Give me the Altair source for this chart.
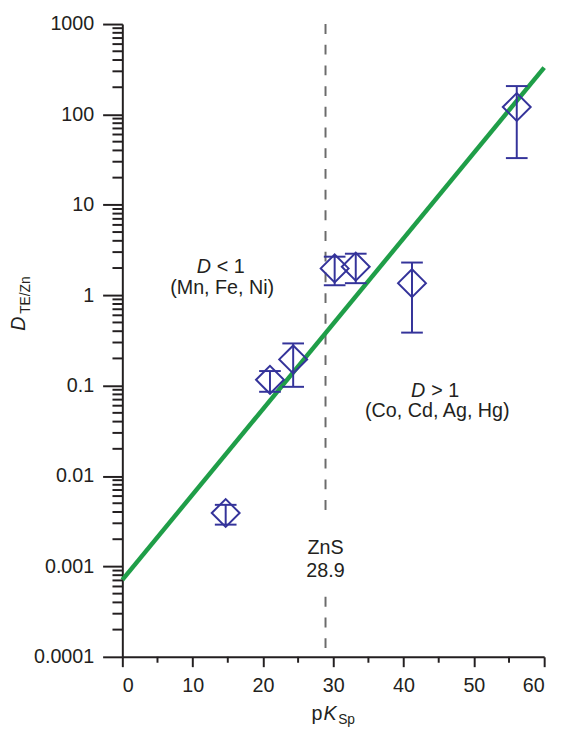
import altair as alt
import pandas as pd

# ---- data ----
pksp = [14.7, 21.0, 24.3, 30.2, 33.2, 41.2, 56.1]
d_mid = [0.0039, 0.116, 0.195, 1.98, 2.07, 1.36, 121]
d_hi = [0.0048, 0.145, 0.293, 2.67, 2.88, 2.30, 206]
d_lo = [0.0029, 0.0855, 0.097, 1.29, 1.36, 0.386, 32.9]

fit_x = [0, 60]
fit_y = [0.00071, 330]

zns_pksp = 28.9
zns_gap_top = 0.00361     # dashed line interrupted by the label
zns_gap_bottom = 0.000461

y_major = [0.0001, 0.001, 0.01, 0.1, 1, 10, 100, 1000]
y_minor = [m * 10.0 ** e for e in range(-4, 3) for m in range(2, 10)]
x_major = [0, 10, 20, 30, 40, 50, 60]
x_minor = [5, 15, 25, 35, 45, 55]

BLUE = "#34339a"
GREEN = "#1f9e48"
GREY = "#6b6b6b"
INK = "#231f20"
FONT = "Liberation Sans"

W, H = 428, 642

xs = alt.Scale(domain=[0, 60], nice=False, zero=False)
ys = alt.Scale(type="log", domain=[0.0001, 1000], nice=False)

pts = pd.DataFrame({"x": pksp, "y": d_mid, "hi": d_hi, "lo": d_lo})
fit = pd.DataFrame({"x": fit_x, "y": fit_y})
vdash = pd.DataFrame({"x": [zns_pksp, zns_pksp],
                      "y": [1000, zns_gap_bottom],
                      "y2": [zns_gap_top, 0.0001]})

x_axis = alt.Axis(values=x_major, tickSize=10, tickWidth=2, tickColor=INK,
                  domainColor=INK, domainWidth=2, labelFontSize=20,
                  labelFont=FONT, labelColor=INK, labelPadding=9,
                  grid=False, title=None)
y_axis = alt.Axis(values=y_major, format="~g", tickSize=20, tickWidth=2,
                  tickColor=INK, domainColor=INK, domainWidth=2,
                  labelFontSize=20, labelFont=FONT, labelColor=INK,
                  labelPadding=9, grid=False, title=None)


def X(field):
    return alt.X(field, scale=xs, axis=x_axis)


def Y(field):
    return alt.Y(field, scale=ys, axis=y_axis)


fit_line = alt.Chart(fit).mark_line(color=GREEN, strokeWidth=4.5).encode(
    x=X("x:Q"), y=Y("y:Q"))

minor_y = alt.Chart(pd.DataFrame({"v": y_minor})).mark_rule(
    color=INK, strokeWidth=2).encode(
    y=Y("v:Q"), x=alt.value(-10), x2=alt.value(0))

minor_x = alt.Chart(pd.DataFrame({"v": x_minor})).mark_rule(
    color=INK, strokeWidth=2).encode(
    x=X("v:Q"), y=alt.value(H), y2=alt.value(H + 6))

dash = alt.Chart(vdash).mark_rule(color=GREY, strokeWidth=2,
                                  strokeDash=[10, 11]).encode(
    x=X("x:Q"), y=Y("y:Q"), y2="y2:Q")

err = alt.Chart(pts).mark_rule(color=BLUE, strokeWidth=2).encode(
    x=X("x:Q"), y=Y("lo:Q"), y2="hi:Q")

cap_hi = alt.Chart(pts).mark_tick(color=BLUE, orient="horizontal",
                                  size=22, thickness=2, opacity=1).encode(
    x=X("x:Q"), y=Y("hi:Q"))
cap_lo = alt.Chart(pts).mark_tick(color=BLUE, orient="horizontal",
                                  size=22, thickness=2, opacity=1).encode(
    x=X("x:Q"), y=Y("lo:Q"))

diam = alt.Chart(pts).mark_point(shape="diamond", size=800, filled=False,
                                 color=BLUE, strokeWidth=2,
                                 opacity=1).encode(
    x=X("x:Q"), y=Y("y:Q"))


def txt(df, **mk):
    base = dict(font=FONT, fontSize=20, color=INK, baseline="alphabetic")
    base.update(mk)
    return alt.Chart(df).mark_text(**base).encode(
        x=X("x:Q"), y=Y("y:Q"), text="t:N")


ann_D = pd.DataFrame({"x": [12.6, 43.1], "y": [1.74, 0.0755], "t": ["D", "D"]})
ann_sym = pd.DataFrame({"x": [12.6, 43.1], "y": [1.74, 0.0755],
                        "t": ["< 1", "> 1"]})
ann_el = pd.DataFrame({"x": [14.2, 44.8], "y": [1.03, 0.0446],
                       "t": ["(Mn, Fe, Ni)", "(Co, Cd, Ag, Hg)"]})
ann_zn = pd.DataFrame({"x": [zns_pksp, zns_pksp], "y": [0.00136, 0.00076],
                       "t": ["ZnS", "28.9"]})

t_D = txt(ann_D, align="right", fontStyle="italic")
t_sym = txt(ann_sym, align="left", dx=6)
t_el = txt(ann_el, align="center")
t_zn = txt(ann_zn, align="center")

# axis titles: pK_Sp and D_TE/Zn
one = pd.DataFrame({"a": [0]})


def lab(text, x, y, size=20, **mk):
    return alt.Chart(one).mark_text(text=text, font=FONT, fontSize=size,
                                    color=INK, **mk).encode(
        x=alt.value(x), y=alt.value(y))


xt_p = lab("p", 203, 706, align="right", baseline="alphabetic")
xt_K = lab("K", 204, 706, align="left", baseline="alphabetic",
           fontStyle="italic")
xt_S = lab("Sp", 219, 710, size=14, align="left", baseline="alphabetic")
yt_D = lab("D", -99, 304, align="center", baseline="alphabetic", angle=270,
           fontStyle="italic")
yt_S = lab("TE/Zn", -94, 275, size=14, align="center", baseline="alphabetic",
           angle=270)

chart = alt.layer(
    dash, fit_line, minor_y, minor_x, err, cap_hi, cap_lo, diam,
    t_D, t_sym, t_el, t_zn, xt_p, xt_K, xt_S, yt_D, yt_S,
).properties(
    width=W, height=H,
    autosize=alt.AutoSizeParams(type="none"),
    padding={"left": 116, "top": 11, "right": 12, "bottom": 72},
).configure_view(stroke=None)

chart.save("out.html", embed_options={"renderer": "svg", "actions": False})
